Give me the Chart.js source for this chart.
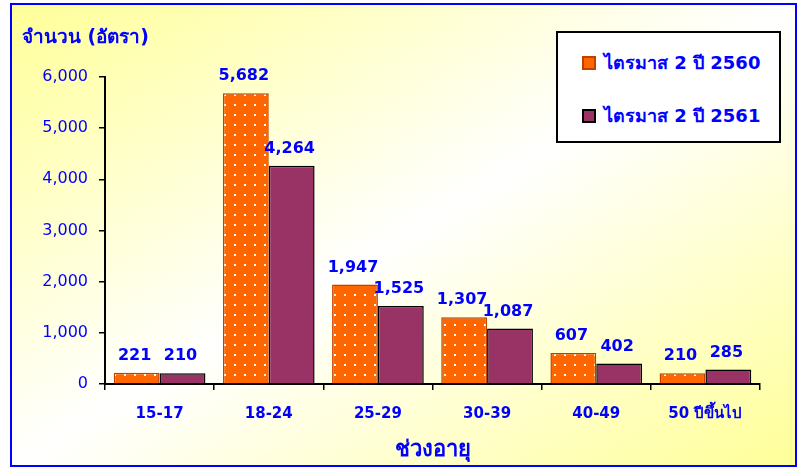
<!DOCTYPE html>
<html>
<head>
<meta charset="utf-8">
<script src="https://cdn.jsdelivr.net/npm/chart.js@4"></script>
<style>
  html, body { margin: 0; padding: 0; background: #fff; }
  #wrap {
    position: absolute; left: 0; top: 0; width: 799px; height: 470px;
  }
  #frame {
    position: absolute; left: 10px; top: 3px; width: 783px; height: 460px;
    border: 2px solid #0000ff;
    background: linear-gradient(to bottom right, #ffff99 0%, #ffffff 50%, #ffff99 100%);
  }
  #chart { position: absolute; left: 0; top: 0; }
  #ytitle {
    position: absolute; left: 22px; top: 21px;
    font: bold 19px Tahoma, 'DejaVu Sans', sans-serif; color: #0000ff;
  }
  #legend {
    position: absolute; left: 556px; top: 31px; width: 221px; height: 108px;
    background: #fff; border: 2px solid #000;
    font: bold 18px Tahoma, 'DejaVu Sans', sans-serif; color: #0000ff;
  }
  .item { position: absolute; left: 24px; display: flex; align-items: center; }
  .box { width: 10px; height: 10px; margin-right: 8px; border: 2px solid #000; }
</style>
</head>
<body>
<div id="wrap">
  <div id="frame"></div>
  <canvas id="chart" width="799" height="470"></canvas>
  <div id="ytitle">จำนวน (อัตรา)</div>
  <div id="legend">
    <div class="item" style="top:15px"><span class="box" id="box0"></span><span id="lab0"></span></div>
    <div class="item" style="top:68px"><span class="box" id="box1"></span><span id="lab1"></span></div>
  </div>
</div>
<script>
// data
const ageGroups = ['15-17', '18-24', '25-29', '30-39', '40-49', '50 ปีขึ้นไป'];
const seriesNames = ['ไตรมาส 2 ปี 2560', 'ไตรมาส 2 ปี 2561'];
const q2Y2560 = [221, 5682, 1947, 1307, 607, 210];
const q2Y2561 = [210, 4264, 1525, 1087, 402, 285];
const yTicks = [0, 1000, 2000, 3000, 4000, 5000, 6000];

const BLUE = '#0000ff';
const FONT = "Tahoma, 'DejaVu Sans', sans-serif";

// orange with white dots
function dotPattern() {
    const c = document.createElement('canvas');
    c.width = 10; c.height = 10;
    const g = c.getContext('2d');
    g.fillStyle = '#ff6600';
    g.fillRect(0, 0, 10, 10);
    g.fillStyle = '#ffffff';
    g.fillRect(4, 4, 2, 2);
    return g.createPattern(c, 'repeat');
}

const orange = dotPattern();

document.getElementById('box0').style.background = '#ff6600';
document.getElementById('box0').style.borderColor = '#c04000';
document.getElementById('box1').style.background = '#993366';
document.getElementById('lab0').textContent = seriesNames[0];
document.getElementById('lab1').textContent = seriesNames[1];

// value labels above bars
const valueLabels = {
    id: 'valueLabels',
    afterDatasetsDraw(chart) {
        const ctx = chart.ctx;
        ctx.save();
        ctx.font = 'bold 16px ' + FONT;
        ctx.fillStyle = BLUE;
        ctx.textAlign = 'center';
        ctx.textBaseline = 'middle';
        chart.data.datasets.forEach((ds, i) => {
            chart.getDatasetMeta(i).data.forEach((bar, j) => {
                ctx.fillText(ds.data[j].toLocaleString('en-US'), bar.x - 2, bar.y - 17);
            });
        });
        ctx.restore();
    }
};

new Chart(document.getElementById('chart'), {
    type: 'bar',
    data: {
        labels: ageGroups,
        datasets: [
            {
                label: seriesNames[0],
                data: q2Y2560,
                backgroundColor: orange,
                borderColor: '#c04000',
                borderWidth: 1.5
            },
            {
                label: seriesNames[1],
                data: q2Y2561,
                backgroundColor: '#993366',
                borderColor: '#000000',
                borderWidth: 1.5
            }
        ]
    },
    options: {
        responsive: false,
        animation: false,
        categoryPercentage: 0.84,
        barPercentage: 1,
        layout: { padding: { left: 0, top: 77, right: 39, bottom: 0 } },
        plugins: {
            legend: { display: false },
            tooltip: { enabled: false }
        },
        scales: {
            x: {
                grid: { offset: true, drawOnChartArea: false, tickLength: 6, tickColor: '#000', lineWidth: 1.5 },
                border: { color: '#000', width: 2 },
                ticks: { color: BLUE, font: { family: FONT, size: 15, weight: 'bold' }, padding: 15, maxRotation: 0 },
                title: {
                    display: true, text: 'ช่วงอายุ', color: BLUE,
                    font: { family: FONT, size: 22, weight: 'bold' },
                    padding: { top: 0, bottom: 7 }
                },
                afterFit(scale) { scale.height = 86; }
            },
            y: {
                min: 0,
                max: 6000,
                afterBuildTicks(scale) { scale.ticks = yTicks.map(v => ({ value: v })); },
                grid: { drawOnChartArea: false, tickLength: 6, tickColor: '#000', lineWidth: 1.5 },
                border: { color: '#000', width: 2 },
                ticks: {
                    color: BLUE, padding: 11,
                    font: { family: FONT, size: 16 },
                    callback: v => v.toLocaleString('en-US')
                },
                afterFit(scale) { scale.width = 105; }
            }
        }
    },
    plugins: [valueLabels]
});
</script>
</body>
</html>
